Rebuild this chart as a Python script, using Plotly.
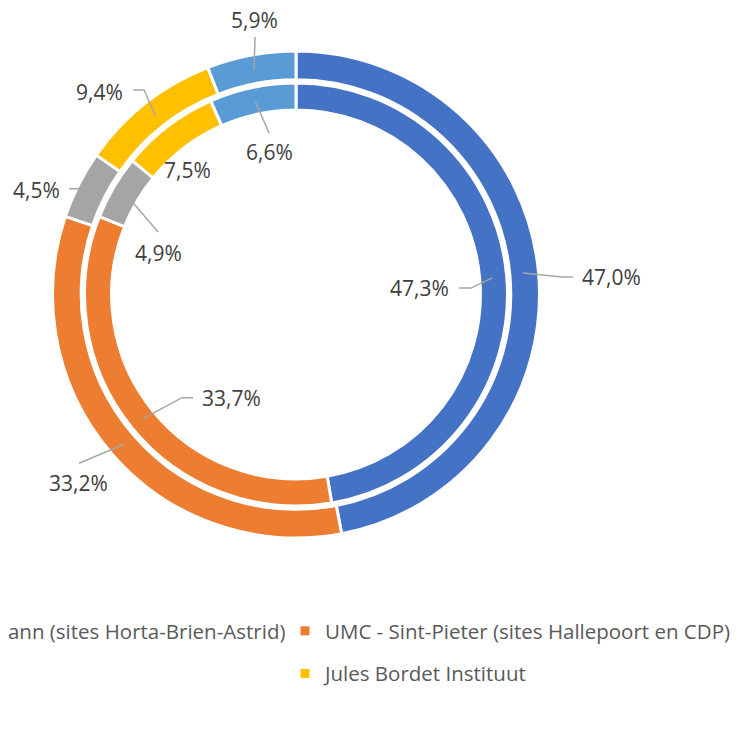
import math
import plotly.graph_objects as go

# ---- data ----
labels = [
    "UMC Brugmann (sites Horta-Brien-Astrid)",
    "UMC - Sint-Pieter (sites Hallepoort en CDP)",
    "UKZKF",
    "Jules Bordet Instituut",
    "IZZ",
]
outer_values = [47.0, 33.2, 4.5, 9.4, 5.9]
inner_values = [47.3, 33.7, 4.9, 7.5, 6.6]
colors = ["#4472C4", "#ED7D31", "#A5A5A5", "#FFC000", "#5B9BD5"]

# legend column assignment (Excel-style 2-column legend, partly clipped)
legend_cols = ["legend", "legend2", "legend", "legend2", "legend"]

# ---- geometry / style ----
OFF = 8                      # page body margin
W, H = 745, 732              # figure size
CX, CY = 296 - OFF, 294.5 - OFF
R_OUT, HOLE_OUT = 243.5, 0.882
R_IN, HOLE_IN = 211.5, 0.872
R_OUT_MID, R_IN_MID = 228, 197
FONT = "Open Sans"
FS = 21
FS_LEG = 20.5
LABEL_COLOR = "#404040"
LEGEND_COLOR = "#595959"
LINE_COLOR = "#A6A6A6"

# label text offset and leader-line bend points, relative to slice anchor (px)
outer_label_style = [
    dict(t=(89, 4), line=[(39, 4), (50, 4)]),
    dict(t=(-45.5, 38.5), line=[(-45, 19)]),
    dict(t=(-56, -2), line=[(-12.5, -3), (-23.5, -3)]),
    dict(t=(-55.5, -23.3), line=[(-11, -25.3), (-22, -25.3)]),
    dict(t=(0.5, -50.4), line=[(1, -33.4)]),
]
inner_label_style = [
    dict(t=(-72.3, 10.3), line=[(-21.3, 10.3), (-33.3, 10.3)]),
    dict(t=(88, -20.2), line=[(39, -21), (50, -21)]),
    dict(t=(32, 58.2), line=[(32, 37.2)]),
    dict(t=(10.4, 32.7), line=[]),
    dict(t=(13.6, 49.8), line=[(13.6, 31.3)]),
]


def dom(r):
    return dict(x=[(CX - r) / W, (CX + r) / W], y=[(H - CY - r) / H, (H - CY + r) / H])


def px(x, y):
    return x / W, 1 - y / H


fig = go.Figure()

fig.add_trace(go.Pie(
    labels=labels, values=outer_values, sort=False, direction="clockwise",
    rotation=0, hole=HOLE_OUT, domain=dom(R_OUT), textinfo="none",
    marker=dict(colors=colors, line=dict(color="white", width=3)),
    showlegend=False, name="outer",
))
fig.add_trace(go.Pie(
    labels=labels, values=inner_values, sort=False, direction="clockwise",
    rotation=0, hole=HOLE_IN, domain=dom(R_IN), textinfo="none",
    marker=dict(colors=colors, line=dict(color="white", width=3)),
    showlegend=False, name="inner",
))

# legend entries
for lab, col, leg in zip(labels, colors, legend_cols):
    fig.add_trace(go.Scatter(
        x=[None], y=[None], mode="markers", name=lab, legend=leg, legendgroup=lab,
        marker=dict(symbol="square", size=9, color=col), hoverinfo="skip",
    ))

annotations = []
shapes = []


def add_labels(values, r_mid, styles):
    total = sum(values)
    cum = 0.0
    for v, st in zip(values, styles):
        a = math.radians(360.0 * (cum + v / 2.0) / total)
        cum += v
        ax = CX + r_mid * math.sin(a)
        ay = CY - r_mid * math.cos(a)
        tx, ty = ax + st["t"][0], ay + st["t"][1]
        X, Y = px(tx, ty)
        annotations.append(dict(
            x=X, y=Y, xref="paper", yref="paper", showarrow=False,
            text=f"{v:.1f}%".replace(".", ","), xanchor="center", yanchor="middle",
            font=dict(family=FONT, size=FS, color=LABEL_COLOR),
        ))
        if st["line"]:
            pts = [(ax, ay)] + [(ax + dx, ay + dy) for dx, dy in st["line"]]
            path = "M " + " L ".join(
                f"{px(x, y)[0]:.5f},{px(x, y)[1]:.5f}" for x, y in pts)
            shapes.append(dict(type="path", path=path, xref="paper", yref="paper",
                               line=dict(color=LINE_COLOR, width=1.5)))


add_labels(outer_values, R_OUT_MID, outer_label_style)
add_labels(inner_values, R_IN_MID, inner_label_style)

legend_common = dict(
    orientation="v", xanchor="left", yanchor="top", traceorder="grouped",
    tracegroupgap=13, bgcolor="rgba(0,0,0,0)",
    font=dict(family=FONT, size=FS_LEG, color=LEGEND_COLOR),
)

fig.update_layout(
    width=W, height=H, autosize=False,
    margin=dict(l=0, r=0, t=0, b=0, pad=0, autoexpand=False),
    paper_bgcolor="white", plot_bgcolor="white",
    xaxis=dict(visible=False), yaxis=dict(visible=False),
    annotations=annotations, shapes=shapes,
    legend=dict(x=(-148 - OFF) / W, y=1 - (611 - OFF) / H, **legend_common),
    legend2=dict(x=(285 - OFF) / W, y=1 - (611 - OFF) / H, **legend_common),
    font=dict(family=FONT),
)

fig.write_html("out.html")
